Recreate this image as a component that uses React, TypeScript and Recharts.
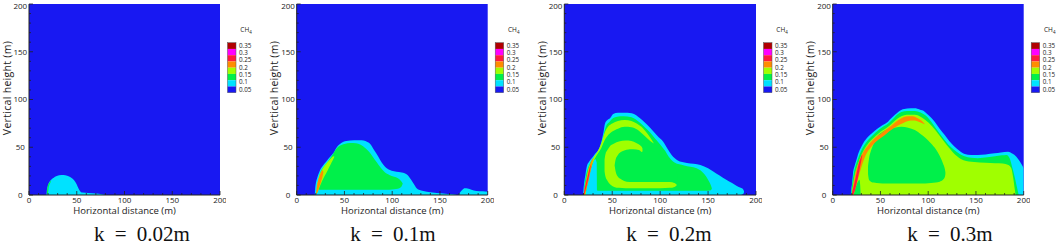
import React from 'react';
import { ComposedChart, Area, XAxis, YAxis, CartesianGrid } from 'recharts';

// ---------- data ----------
type Band = [number, number, number][]; // [x, lower y, upper y]

const majorTicks = [0, 50, 100, 150, 200];
const minorTicks = [0, 10, 20, 30, 40, 50, 60, 70, 80, 90, 100, 110, 120, 130, 140, 150, 160, 170, 180, 190, 200];
const levelLabels = ['0.35', '0.3', '0.25', '0.2', '0.15', '0.1', '0.05'];
const panelTitles = ['k = 0.02m', 'k = 0.1m', 'k = 0.2m', 'k = 0.3m'];

// k = 0.02 m
const p1Cyan: Band = [[18.3,0,0],[18.6,0,4],[19.5,0,9],[21,0,13],[23,0,15.8],[25.5,0,17.8],[29,0,19.8],[34,0,21],[38,0,20.8],[42,0,19.5],[45,0,17.5],[48,0,14.5],[50,0,11],[52,0,6.5],[54,0,3.5],[56,0,2.5],[62,0,2.2],[70,0,1.6],[76,0,0.9],[79,0,0.3],[80,0,0]];
const p1GreenRim: Band = [[18.7,0.5,0.5],[19,0.5,5.5],[19.5,0.8,8.5],[20,2.5,10.5],[20.7,8.5,12],[21.5,11,13.2],[22.5,13.2,14.6],[23.3,15.3,15.3]];

// k = 0.1 m
const p2Cyan: Band = [[19,0,0],[19.3,0,6],[20,0,12],[21.5,0,18],[24,0,25],[27,0,30],[31,0,35],[35,0,40],[38.5,0,44],[42,0,50],[46,0,54],[52,0,56.5],[60,0,57.2],[66,0,57.2],[70,0,57],[74,0,55.5],[77,0,53.5],[81,0,47],[85.5,0,40],[89,0,34],[92.5,0,29.6],[97,0,26.5],[102,0,25],[107,0,24.2],[113,0,22.7],[117,0,20],[120,0,15.7],[123,0,11],[125.6,0,7],[128,0,5.5],[132.6,0,4.2],[140,0,3],[153.5,0,1.7],[163,0,0.8],[167,0,0.3],[168,0,0]];
const p2CyanTail: Band = [[169.5,0,0],[171,0,2.5],[173.5,0,5.5],[176,0,7],[179,0,6.8],[183,0,5.5],[188,0,4.3],[195,0,3.8],[200,0,3.5]];
const p2Green: Band = [[21.8,8,8],[22.5,6.5,13],[23.5,5.5,19],[25,5.5,24],[28,5.5,29],[31.5,5.5,33.5],[35,5.5,38.5],[38,5.5,43],[41.5,5.5,48.5],[45,5.5,51.5],[50,5.5,53.5],[56,5.5,54.5],[62,5.5,54.2],[67,5.5,52.5],[72,5.5,49],[76,5.5,45],[80,5.5,39.5],[84,5.5,34],[88,5.5,28.5],[92,5.5,24],[97,5.5,21],[102,6,19],[106,6.5,17.5],[109,8,15],[110.7,11,12.5],[111,12,12]];
const p2YgStreak: Band = [[20.5,2,2],[21,2,8],[22,3,13.5],[23.5,7,19.5],[25.5,12,24.5],[28,17.5,29],[31,23,33],[34,29,36.5],[36.5,34,39],[38.5,38,40.5],[39.5,40,40]];
const p2OrangeStreak: Band = [[20.3,1,1],[20.8,1,6],[21.5,2.5,11],[22.5,5,15.5],[24,9.5,20],[25.5,14,23.5],[27,19,26],[28,24,24]];

// k = 0.2 m
const p3Cyan: Band = [[19.5,0,0],[20,0,6],[21,0,15],[22,0,21],[23.4,0,29.6],[26,0,35],[28.6,0,38.4],[32,0,43],[35.5,0,47],[38.5,0,55],[40.7,0,64.6],[42.5,0,75],[45,0,78.5],[47.7,0,80.3],[51,0,84.8],[56,0,86],[61.6,0,86.2],[66,0,86],[70.4,0,85.5],[75,0,83.5],[79,0,80.3],[84,0,76],[90,0,70],[97,0,62],[103,0,56],[108,0,48],[112,0,42],[118,0,36.5],[128,0,33.5],[142,0,31.5],[150,0,28],[155,0,25],[162,0,20.5],[169,0,16],[175,0,12.5],[180,0,9.5],[184,0,7.5],[186.5,1,6],[187.5,3,4]];
const p3Green: Band = [[20.3,0,0],[21,0,9],[22,0,16],[23,2,22],[24.5,4.5,27.5],[27,4.5,33.5],[30,4.5,38],[34,4.5,43],[37,4.5,47],[39.5,4.5,56],[41.5,4.5,65],[43.5,4.5,72],[47,4.5,76.5],[51,4.5,80.5],[55,4.5,82],[62,4.5,82.5],[70,4.5,81.5],[78,4.5,76.5],[84,4.5,71],[89,4.5,66],[94,4.5,60],[100,4.5,53],[105,4.5,46.5],[109,4.5,40],[115,4.5,34],[125,4.5,31],[138,4.5,28],[146,4.5,22],[150,4.5,16],[153,5,10],[154,7,7]];
const p3CyanWedge: Band = [[22,0,0],[23,0,5],[24.5,0,13],[26,0,20],[27.5,0,26.5],[29.5,0,32.5],[31,0,36.5],[32.5,0,37.5],[33.8,0,34],[34.3,0,4.5],[35,0,4.5]];
const p3YgArc: Band = [[20.4,0,0],[21.5,0,8],[22,0,11],[23,6,17],[24.5,14,25],[26,21,30],[27.5,27,33.5],[29.5,33,37],[32,38.5,41.5],[35,43.5,46],[38.5,49,54],[42,57,65],[46,63,72],[50,66.5,75],[56,69.5,77.5],[63,71.5,78.5],[70,71,77.5],[76,68.5,74.5],[82,63.5,70],[87,59,64],[91,55.5,58],[93.5,54,54]];
const p3OrangeStreak: Band = [[20,0,0],[20.5,0,4],[21.5,1,9],[22.5,4.5,14],[24,10,21],[25.5,16,27],[27,23,32],[28.5,30,36],[29.5,35,38],[30.5,38.5,38.5]];
const p3RedStreak: Band = [[20.1,0,0],[20.6,0,2.5],[21.5,2.5,7],[22.5,6.5,11.5],[23.5,11,16],[24.5,15,20],[25.5,19.5,24],[26.5,24,28.5],[27.3,29,31],[27.8,32,32]];
const p3YgCurl: Band = [[42,25,37],[43,19,43],[45,15,47],[48,11,51.5],[52,8.5,54],[57,7.5,56],[64,7,57],[70,7,56.5],[75,7,54.5],[79,7,52],[81.5,7,49],[82.5,7,14],[90,7,13.5],[100,7,13.5],[110,7.5,13.5],[115,8.5,12.5],[117.5,10.5,10.5]];
const p3GreenCore: Band = [[52.5,31,31],[53.5,25,37],[56,19,42],[60,16,45.5],[65,14,47.5],[72,13.5,48],[78,13.5,47],[81,13.5,45],[84,13.5,47],[92,13.5,46],[100,13.5,42],[110,13.5,34],[116,13,28],[118,12,20]];

// k = 0.3 m
const p4Cyan: Band = [[19,0,0],[19.5,0,6],[20.5,0,14],[21.3,0,22.7],[23,0,30.5],[24.8,0,36.6],[27,0,44],[30,0,50.6],[33,0,56],[37,0,61],[42,0,65.5],[47.4,0,69.8],[52,0,73],[57.9,0,76.8],[61,0,80],[64.9,0,83.8],[68,0,86.5],[71.8,0,89],[78,0,90.5],[85.9,0,90.8],[91,0,89.5],[96.3,0,87.3],[101,0,83],[106.8,0,76.8],[112,0,69.5],[117.3,0,62.8],[122,0,56.5],[127.7,0,50.6],[133,0,46],[138.2,0,42.9],[145,0,41.8],[152.1,0,41.9],[160,0,42.5],[169.6,0,43.6],[176,0,44.5],[183.6,0,45.4],[188,0,43.5],[192.3,0,40.1],[196,0,35],[200,0,28]];
const p4Green: Band = [[19.4,0,0],[20,0,8],[21,0,16],[22.2,0,23.5],[24,0,30.5],[26.5,0,38],[29.5,0,45.5],[33,0,52],[37,0,57.5],[42,0,62.5],[47.4,0,67.5],[52,0,71],[57.9,0,74.5],[61,0,77.5],[64.9,0,81.5],[68,0,84.5],[72,0,86.8],[78,0,88],[86,0,88],[92,0,86.5],[97,0,83.5],[103,0,77],[109,0,68.5],[115,0,60.5],[121,0,53],[127,0,47.5],[133,0,43],[138,0,40.5],[145,0,39],[152,0,38.5],[162,0,39.5],[170,0,40.5],[177,0,41.5],[182,0,42],[185.3,0,38.4],[188,0,29],[190.5,0,19.2],[192.5,0,10],[194,0,3.5],[194.8,0,0]];
const p4Yg: Band = [[20,0,0],[21,0,8],[22,0,15],[23.5,0,22.5],[25.5,0,29.5],[28,0,37],[31,0,44],[34,0,49.5],[38,0,55],[43,0,60],[48,0,64.5],[53,0,68],[58,0,71.5],[62,0,75],[66,0,78.5],[70,0,81.5],[75,0,83.5],[80,0,84],[86,0,84],[92,0,82],[97,0,78.5],[104,0,72],[112,0,62],[120,0,51.5],[128,0,42.5],[137,0,36.5],[148,0,34.5],[160,0,33.8],[170,0,33.2],[178,0,33],[184,0,31.5],[187,0,28],[189,0,18],[190.5,0,7],[191.5,0,0]];
const p4GreenWedge: Band = [[22,0,0],[23,0,4],[24,0,7.5],[25.5,0,12],[27,0,15],[28,0,16],[28.8,0,10],[29.3,0,0]];
const p4GreenCore: Band = [[37,22,30],[38,16,38],[40,14,46],[43,13,54],[46,12.5,60.5],[52,12,66],[58,12,69],[65,12,70.5],[72,12,71.5],[79,12,70.5],[86,12,68],[92,12,64],[97,12,60],[103,12.5,54],[108,13,48],[112,14,41],[115.5,16,33],[117.5,19,27],[118,22,24]];
const p4OrangeArc: Band = [[19.9,0,0],[20.4,0,4],[21,0,7.5],[22,1.5,13],[23.5,6,21],[25,11,27.5],[27,18.5,33.5],[30,29,41],[33,38,46.5],[36,44.5,50.5],[40,50,55.5],[45,55.5,60.5],[50,59.5,64],[56,64,68.5],[62,68.5,73],[68,72.5,78],[74,75.5,81.5],[79,77.5,82.5],[84,78,82.5],[88,77.5,81],[92,76,78.5],[94.5,75,76.5],[96.5,74,74]];
const p4RedStreak: Band = [[19.9,0,0],[20.4,0,3],[21.3,0,6.5],[22.3,2,10.5],[23.3,5,15],[24.3,9,19.5],[25.3,13,24],[26.3,17.5,28.5],[27.3,22.5,33],[28.3,27.5,36.5],[29.3,33,38.5],[30.3,38,41.5],[31,42,42]];

// ---------- styling ----------
const BLUE = '#1818f2';
const CYAN = '#00e2ff';
const GREEN = '#00f04a';
const YG = '#a0ff00';
const ORANGE = '#ff8c00';
const RED = '#ff1a3c';
const MAGENTA = '#ff00ff';
const DARKRED = '#b00000';
const legendColors = [DARKRED, MAGENTA, RED, ORANGE, YG, GREEN, CYAN, BLUE];
const AXIS_FONT = '"Open Sans", "DejaVu Sans", sans-serif';

const panelLayers: [string, Band][][] = [
  [[CYAN, p1Cyan], [GREEN, p1GreenRim]],
  [[CYAN, p2Cyan], [CYAN, p2CyanTail], [GREEN, p2Green], [YG, p2YgStreak], [ORANGE, p2OrangeStreak]],
  [[CYAN, p3Cyan], [GREEN, p3Green], [CYAN, p3CyanWedge], [YG, p3YgArc], [ORANGE, p3OrangeStreak], [RED, p3RedStreak], [YG, p3YgCurl], [GREEN, p3GreenCore]],
  [[CYAN, p4Cyan], [GREEN, p4Green], [YG, p4Yg], [GREEN, p4GreenWedge], [GREEN, p4GreenCore], [ORANGE, p4OrangeArc], [RED, p4RedStreak]],
];

const geometry = [
  { left: 0, plotL: 29, plotR: 220, titleX: 142 },
  { left: 265, plotL: 296.7, plotR: 487.7, titleX: 393 },
  { left: 530, plotL: 564.3, plotR: 756, titleX: 669 },
  { left: 795, plotL: 832.7, plotR: 1023.7, titleX: 950 },
];

const PLOT_TOP = 4;
const PLOT_BOTTOM = 195;
const H = 246;

const XTick = (props: any) => {
  const { x, y, payload } = props;
  const v = payload.value;
  const major = majorTicks.includes(v);
  return (
    <g>
      <line x1={x} x2={x} y1={y} y2={y - (major ? 4 : 2)} stroke="#222" strokeWidth={0.8} />
      {major && (
        <text x={x} y={y + 8} textAnchor="middle" fontSize={8} fontFamily={AXIS_FONT} fill="#222">
          {v}
        </text>
      )}
    </g>
  );
};

const YTick = (props: any) => {
  const { x, y, payload } = props;
  const v = payload.value;
  const major = majorTicks.includes(v);
  const baseline = Math.max(y + 2.9, 8.8);
  return (
    <g>
      <line x1={x} x2={x + (major ? 4 : 2)} y1={y} y2={y} stroke="#222" strokeWidth={0.8} />
      {major && (
        <text x={x - 8.7} y={baseline} textAnchor="middle" fontSize={8} fontFamily={AXIS_FONT} fill="#222">
          {v}
        </text>
      )}
    </g>
  );
};

function Panel({ idx }: { idx: number }) {
  const g = geometry[idx];
  const yW = g.plotL - g.left;
  const plotW = g.plotR - g.plotL;
  const width = Math.round(g.plotR - g.left + 6);
  const mr = width - (g.plotR - g.left);
  const xAxisH = 20;
  const mb = H - PLOT_BOTTOM - xAxisH;
  const layers = panelLayers[idx];

  const xLabel = () => (
    <text x={yW + plotW / 2} y={214} textAnchor="middle" fontSize={9.5} fontFamily={AXIS_FONT} fill="#222">
      Horizontal distance (m)
    </text>
  );
  const yLabel = () => (
    <text
      x={yW - 22.5}
      y={88}
      textAnchor="middle"
      dominantBaseline="central"
      fontSize={10.5}
      letterSpacing={0.3}
      fontFamily={AXIS_FONT}
      fill="#222"
      transform={`rotate(-90 ${yW - 22.5} 88)`}
    >
      Vertical height (m)
    </text>
  );

  return (
    <div style={{ position: 'absolute', left: g.left, top: 0 }}>
      <ComposedChart width={width} height={H} margin={{ top: PLOT_TOP, right: mr, bottom: mb, left: 0 }}>
        <CartesianGrid horizontal={false} vertical={false} fill={BLUE} fillOpacity={1} stroke="none" />
        {layers.map(([color, band], i) => (
          <Area
            key={i}
            data={band.map(([x, lo, hi]) => ({ x, r: [lo, hi] }))}
            dataKey="r"
            type="monotone"
            stroke="none"
            fill={color}
            fillOpacity={1}
            dot={false}
            activeDot={false}
            isAnimationActive={false}
          />
        ))}
        <XAxis
          type="number"
          dataKey="x"
          domain={[0, 200]}
          allowDataOverflow
          ticks={minorTicks}
          interval={0}
          height={xAxisH}
          tickSize={0}
          tickMargin={0}
          tickLine={false}
          axisLine={{ stroke: '#222', strokeWidth: 1 }}
          tick={XTick}
          label={xLabel}
        />
        <YAxis
          type="number"
          domain={[0, 200]}
          allowDataOverflow
          ticks={minorTicks}
          interval={0}
          width={yW}
          tickSize={0}
          tickMargin={0}
          tickLine={false}
          axisLine={{ stroke: '#222', strokeWidth: 1 }}
          tick={YTick}
          label={yLabel}
        />
      </ComposedChart>
    </div>
  );
}

function Overlay() {
  return (
    <svg width={1059} height={H} style={{ position: 'absolute', left: 0, top: 0, pointerEvents: 'none' }}>
      {geometry.map((g, i) => {
        const sx = g.plotR + 7.5;
        return (
          <g key={i}>
            <text x={sx + 12.8} y={32.3} fontSize={6.5} fontFamily={AXIS_FONT} fill="#222">
              CH<tspan fontSize={4.5} dy={1.5}>4</tspan>
            </text>
            {legendColors.map((c, j) => (
              <rect key={j} x={sx} y={42.7 + j * 6.25} width={8.5} height={6.25} fill={c} />
            ))}
            <rect x={sx} y={42.7} width={8.5} height={50} fill="none" stroke="#555" strokeWidth={0.5} />
            {levelLabels.map((l, j) => (
              <text key={l} x={sx + 11.5} y={45.7 + j * 7.27 + 2.2} fontSize={6.3} fontFamily={AXIS_FONT} fill="#222">
                {l}
              </text>
            ))}
            <text
              x={g.titleX}
              y={241}
              textAnchor="middle"
              fontSize={21}
              fontFamily='"Liberation Serif", "DejaVu Serif", serif'
              fill="#111"
              style={{ wordSpacing: 5 }}
            >
              {panelTitles[i]}
            </text>
          </g>
        );
      })}
    </svg>
  );
}

export default function App() {
  return (
    <div style={{ position: 'absolute', left: 0, top: 0, width: 1059, height: H, background: '#fff', overflow: 'hidden' }}>
      {geometry.map((_, i) => (
        <Panel key={i} idx={i} />
      ))}
      <Overlay />
    </div>
  );
}
